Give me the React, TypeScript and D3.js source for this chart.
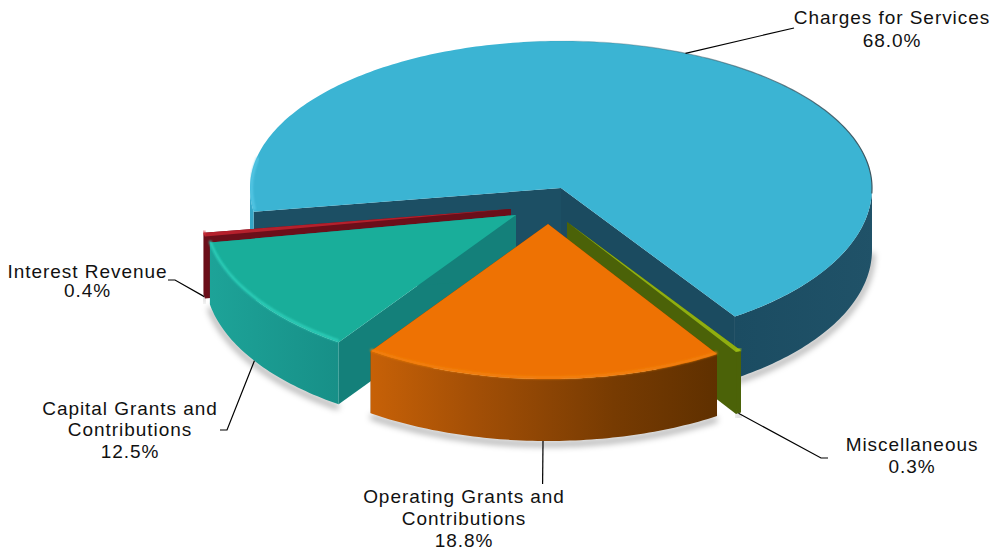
import React from "react";
import * as d3 from "d3";

// Revenue shares, clockwise from the back-left edge of the largest wedge.
const categories = ["Charges for Services", "Miscellaneous", "Operating Grants and Contributions", "Capital Grants and Contributions", "Interest Revenue"];
const shares = [68.0, 0.3, 18.8, 12.5, 0.4];
const labelLines = [
  ["Charges for Services", "68.0%"],
  ["Miscellaneous", "0.3%"],
  ["Operating Grants and", "Contributions", "18.8%"],
  ["Capital Grants and", "Contributions", "12.5%"],
  ["Interest Revenue", "0.4%"],
];

const WIDTH = 990;
const HEIGHT = 551;
const rad = (deg: number) => (deg * Math.PI) / 180;
const START = rad(-98.8);
const DEPTH = 62;

// Where each exploded wedge's tip sits after being pulled from the centre.
const tips: [number, number][] = [[561, 188], [567, 222], [548, 224], [516, 215], [511, 209]];

// Label layout: text centre, baselines, and the bend and end of each leader.
const labelX = [892, 912, 464, 130, 87.5];
const labelY = [[24, 47], [451, 473], [503, 525, 547], [415, 436, 458], [278, 297]];
const leaderEnds: [number, number][][] = [
  [[794, 28]],
  [[821, 458], [828, 458]],
  [[542.6, 484]],
  [[227, 430], [220, 430]],
  [[175, 280], [168, 280]],
];
const leaderDrop = [0, DEPTH, DEPTH, DEPTH, DEPTH];

const palette = [
  { top: "#3bb4d3", rim: "#56c8e6", wall: "url(#wallBlue)", faceA: "#1c4f64", faceB: "#1b4b60" },
  { top: "#8fae10", rim: "#a3c414", wall: "#4b6208", faceA: "#4b6208", faceB: "#4b6208" },
  { top: "#ee7203", rim: "#f2820f", wall: "url(#wallOrange)", faceA: "#8a4303", faceB: "#6a3400" },
  { top: "#19ae9a", rim: "#2fd0bb", wall: "url(#wallTeal)", faceA: "#14807a", faceB: "#14807a" },
  { top: "#b5202c", rim: "#d2333d", wall: "#6b0f1a", faceA: "#6b0f1a", faceB: "#6b0f1a" },
];

const xOffset = d3.scaleLinear().domain([-1, 1]).range([-311, 311]);
// The far half of the ellipse is foreshortened a little more than the near half.
const yOffset = d3.scaleLinear().domain([-1, 0, 1]).range([155, 0, -147]);

const rimPoint = (tip: [number, number], angle: number, drop = 0): [number, number] => [
  tip[0] + xOffset(Math.sin(angle)),
  tip[1] + yOffset(Math.cos(angle)) + drop,
];

const sweep = (a0: number, a1: number) => {
  const n = Math.max(2, Math.ceil(Math.abs(a1 - a0) / rad(1)));
  return d3.range(n + 1).map((i) => a0 + ((a1 - a0) * i) / n);
};

const line = d3.line<[number, number]>();
const closed = (pts: [number, number][]) => `${line(pts)}Z`;

// Parts of an angular span that face the viewer (the near half of the turn).
const nearSpans = (a0: number, a1: number) => {
  const spans: [number, number][] = [];
  for (let k = -1; k <= 1; k++) {
    const lo = Math.max(a0, rad(90) + k * 2 * Math.PI);
    const hi = Math.min(a1, rad(270) + k * 2 * Math.PI);
    if (hi > lo) spans.push([lo, hi]);
  }
  return spans;
};

const pieLayout = d3
  .pie<number>()
  .sort(null)
  .startAngle(START)
  .endAngle(START + 2 * Math.PI);
const arcs = pieLayout(shares);

// Painter's order, back to front.
const drawOrder = [0, 4, 1, 3, 2];

function Wedge({ index }: { index: number }) {
  const arc = arcs[index];
  const tip = tips[index];
  const colors = palette[index];
  const a0 = arc.startAngle;
  const a1 = arc.endAngle;
  const rim = sweep(a0, a1).map((a) => rimPoint(tip, a));
  const spans = nearSpans(a0, a1);
  const tipLow: [number, number] = [tip[0], tip[1] + DEPTH];

  const face = (angle: number) =>
    closed([tip, rimPoint(tip, angle), rimPoint(tip, angle, DEPTH), tipLow]);

  return (
    <g>
      {spans.map(([lo, hi], i) => (
        <path
          key={`shadow${i}`}
          d={line(sweep(lo, hi).map((a) => rimPoint(tip, a, DEPTH + 3))) ?? ""}
          fill="none"
          stroke="#000"
          strokeOpacity={0.34}
          strokeWidth={5}
          filter="url(#soft)"
        />
      ))}
      <path d={face(a0)} fill={colors.faceA} />
      <path d={face(a1)} fill={colors.faceB} />
      {spans.map(([lo, hi], i) => {
        const top = sweep(lo, hi).map((a) => rimPoint(tip, a));
        const bottom = sweep(hi, lo).map((a) => rimPoint(tip, a, DEPTH));
        // The sliver of the big wedge's outer wall on the far left catches the light.
        const fill = index === 0 && hi < 0 ? "#35a6c6" : colors.wall;
        return <path key={`wall${i}`} d={closed([...top, ...bottom])} fill={fill} />;
      })}
      <path d={closed([tip, ...rim])} fill={colors.top} />
      {index === 0 ? (
        <>
          <path d={line(sweep(rad(-10), rad(92)).map((a) => rimPoint(tip, a))) ?? ""} fill="none" stroke="url(#edgeBlue)" strokeWidth={1.2} />
          <path d={line(sweep(rad(-98), rad(-78)).map((a) => rimPoint(tip, a)).map(([x, y]) => [x + 1.5, y] as [number, number])) ?? ""} fill="none" stroke={colors.rim} strokeWidth={2.5} filter="url(#bevel)" />
        </>
      ) : (
        spans.map(([lo, hi], i) => (
          <path
            key={`bevel${i}`}
            d={line(sweep(lo, hi).map((a) => rimPoint(tip, a, -1.5))) ?? ""}
            fill="none"
            stroke={colors.rim}
            strokeWidth={2.5}
            filter="url(#bevel)"
          />
        ))
      )}
    </g>
  );
}

function Labels() {
  return (
    <g fontFamily="'Liberation Sans', Arial, sans-serif" fontSize={19} fill="#111" letterSpacing={0.95} textAnchor="middle">
      {categories.map((name, i) => {
        const arc = arcs[i];
        const mid = (arc.startAngle + arc.endAngle) / 2;
        const start = rimPoint(tips[i], mid, leaderDrop[i]);
        return (
          <g key={name}>
            <path d={line([start, ...leaderEnds[i]]) ?? ""} fill="none" stroke="#000" strokeWidth={1.2} />
            {labelLines[i].map((text, j) => (
              <text key={text} x={labelX[i]} y={labelY[i][j]}>
                {text}
              </text>
            ))}
          </g>
        );
      })}
    </g>
  );
}

export default function App() {
  return (
    <svg
      width={WIDTH}
      height={HEIGHT}
      viewBox={`0 0 ${WIDTH} ${HEIGHT}`}
      style={{ position: "absolute", left: 0, top: 0, background: "#fff" }}
    >
      <defs>
        <filter id="soft" x="-20%" y="-50%" width="140%" height="200%">
          <feGaussianBlur stdDeviation={3} />
        </filter>
        <filter id="bevel" x="-10%" y="-30%" width="120%" height="160%">
          <feGaussianBlur stdDeviation={0.9} />
        </filter>
        <linearGradient id="wallOrange" gradientUnits="userSpaceOnUse" x1={370} x2={718} y1={0} y2={0}>
          <stop offset="0" stopColor="#c76107" />
          <stop offset="0.3" stopColor="#a34f06" />
          <stop offset="0.7" stopColor="#773b02" />
          <stop offset="1" stopColor="#5f3000" />
        </linearGradient>
        <linearGradient id="wallTeal" gradientUnits="userSpaceOnUse" x1={210} x2={342} y1={0} y2={0}>
          <stop offset="0" stopColor="#1da398" />
          <stop offset="1" stopColor="#178f87" />
        </linearGradient>
        <linearGradient id="wallBlue" gradientUnits="userSpaceOnUse" x1={735} x2={875} y1={0} y2={0}>
          <stop offset="0" stopColor="#1b4c62" />
          <stop offset="1" stopColor="#205268" />
        </linearGradient>
        <linearGradient id="edgeBlue" gradientUnits="userSpaceOnUse" x1={510} x2={872} y1={0} y2={0}>
          <stop offset="0" stopColor="#43606c" stopOpacity={0} />
          <stop offset="0.5" stopColor="#43606c" stopOpacity={0.5} />
          <stop offset="1" stopColor="#3a5560" />
        </linearGradient>
      </defs>
      {drawOrder.map((i) => (
        <Wedge key={categories[i]} index={i} />
      ))}
      <Labels />
    </svg>
  );
}
